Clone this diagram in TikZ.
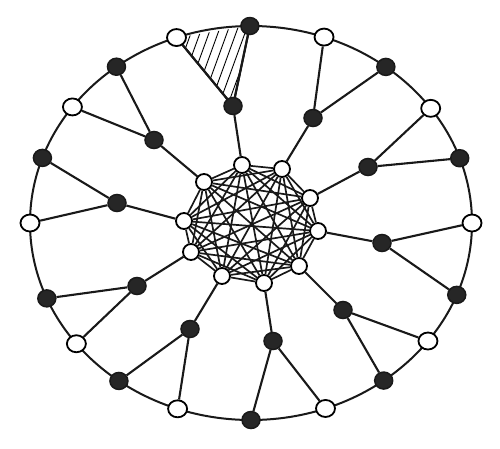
\documentclass[tikz,border=0pt]{standalone}
\usetikzlibrary{shapes.geometric}
\pgfdeclarelayer{background}
\pgfsetlayers{background,main}
\tikzset{
  wnode/.style={ellipse,draw=black,line width=1.8pt,fill=white,minimum width=19pt,minimum height=17pt,inner sep=0pt},
  bnode/.style={ellipse,draw=black!90,line width=1.5pt,fill=black!85,minimum width=18pt,minimum height=17pt,inner sep=0pt},
  inode/.style={circle,draw=black,line width=1.8pt,fill=white,minimum size=16pt,inner sep=0pt},
  edge/.style={line width=2.1pt,black!90},
  kedge/.style={line width=1.7pt,black!90},
  hatch/.style={line width=0.9pt,black}
}
\begin{document}
\begin{tikzpicture}[x=1pt,y=-1pt]
\useasboundingbox (0,0) rectangle (500,448);
% outer ring nodes (angle on ellipse)
\foreach \n/\t/\s in {1/0/wnode,2/19.2/bnode,3/35.6/wnode,4/52.4/bnode,5/70.7/wnode,
  6/90.3/bnode,7/109.7/wnode,8/127.5/bnode,9/143.9/wnode,10/160.7/bnode,
  11/180/wnode,12/202.5/bnode,13/217.8/wnode,14/233.3/bnode,15/250.6/wnode,
  16/270/bnode,17/289.7/wnode,18/306.9/bnode,19/323.2/wnode,20/338.6/bnode}
  \node[\s] (o\n) at ({251+221*cos(\t)},{223-197*sin(\t)}) {};
% middle black nodes
\foreach \n/\x/\y in {1/233/106,2/154/140,3/117/203,4/137/286,5/190/329,
  6/273/341,7/343/310,8/382/243,9/368/167,10/313/118}
  \node[bnode] (m\n) at (\x,\y) {};
% inner clique nodes
\foreach \n/\x/\y in {1/242/165,2/282/169,3/310/198,4/318/231,5/299/266,
  6/264/283,7/222/276,8/191/252,9/184/221,10/204/182}
  \node[inode] (i\n) at (\x,\y) {};
\begin{pgfonlayer}{background}
  \draw[line width=2pt,black!90] (251,223) ellipse [x radius=221pt, y radius=197pt];
  \begin{scope}
    \clip (o7.center) -- (o6.center) -- (m1.center) -- cycle;
    \foreach \s in {-90,-81,...,90}
      \draw[hatch] ({215+\s-0.364*70},{66+70}) -- ({215+\s+0.364*70},{66-70});
  \end{scope}
  \draw[edge] (o7.center) -- (m1.center) -- (o6.center);
\end{pgfonlayer}
% spokes
\foreach \m/\i/\b/\w in {1/1/6/7,2/10/8/9,3/9/10/11,4/8/12/13,5/7/14/15,
  6/6/16/17,7/5/18/19,8/4/20/1,9/3/2/3,10/2/4/5}
  \draw[edge] (i\i) -- (m\m) (m\m) -- (o\b) (m\m) -- (o\w);
% clique
\foreach \a [evaluate=\a as \k using int(\a+1)] in {1,...,9}
  \foreach \c in {\k,...,10}
    \draw[kedge] (i\a) -- (i\c);
\end{tikzpicture}
\end{document}
